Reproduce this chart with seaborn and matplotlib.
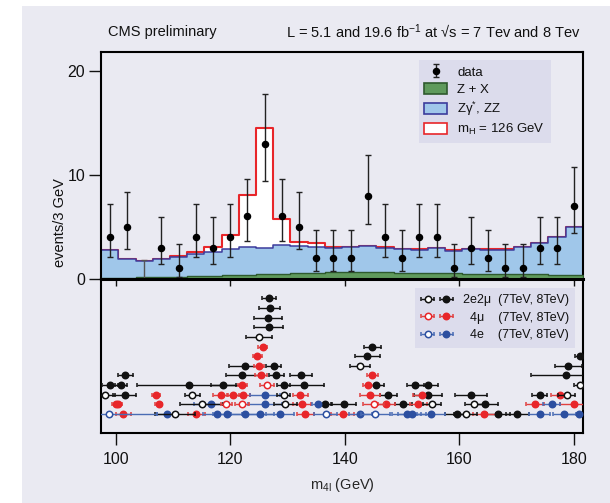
import numpy as np
import pandas as pd
import matplotlib
matplotlib.use("Agg")
import matplotlib.pyplot as plt
import seaborn as sns
from matplotlib.patches import Patch, Rectangle
from matplotlib.legend_handler import HandlerTuple

# ---------------- upper panel data ----------------
mass_bins = [99, 102, 105, 108, 111, 114, 117, 120, 123, 126, 129, 132, 135, 138,
             141, 144, 147, 150, 153, 156, 159, 162, 165, 168, 171, 174, 177, 180]
bin_width = 3.0
data_counts = [4, 5, 0, 3, 1, 4, 3, 4, 6, 13, 6, 5, 2, 2,
               2, 8, 4, 2, 4, 4, 1, 3, 2, 1, 1, 3, 3, 7]
zx_yield = [0.08, 0.10, 0.12, 0.15, 0.20, 0.25, 0.30, 0.35, 0.40, 0.45, 0.50, 0.55, 0.58, 0.60,
            0.60, 0.60, 0.60, 0.58, 0.56, 0.55, 0.53, 0.50, 0.48, 0.46, 0.44, 0.42, 0.40, 0.38]
zz_yield = [2.65, 1.79, 1.61, 1.74, 1.92, 2.12, 2.30, 2.47, 2.62, 2.53, 2.70, 2.63, 2.50, 2.40,
            2.45, 2.50, 2.40, 2.27, 2.24, 2.40, 2.17, 2.35, 2.32, 2.34, 2.61, 2.98, 3.60, 4.57]
higgs_yield = [0.02, 0.02, 0.02, 0.02, 0.04, 0.22, 0.47, 1.38, 5.0, 11.5, 2.55, 0.33, 0.32, 0.06,
               0.03, 0.03, 0.03, 0.03, 0.03, 0.03, 0.03, 0.03, 0.03, 0.03, 0.03, 0.03, 0.03, 0.03]
poisson_lo = {0: 0.0, 1: 0.83, 2: 1.29, 3: 1.63, 4: 1.91, 5: 2.16, 6: 2.38, 7: 2.58, 8: 2.77, 13: 3.58}
poisson_hi = {0: 1.84, 1: 2.30, 2: 2.64, 3: 2.92, 4: 3.16, 5: 3.38, 6: 3.58, 7: 3.77, 8: 3.94, 13: 4.73}
x_ticks = [100, 120, 140, 160, 180]
y_ticks = [0, 10, 20]

# ---------------- lower panel: individual events (mass, error, channel, sqrt(s)) ----------------
row01 = [(126.7, 1.2, '2e2mu', 8)]
row02 = [(126.9, 1.8, '2e2mu', 8)]
row03 = [(126.6, 2.4, '2e2mu', 8)]
row04 = [(126.7, 2.5, '2e2mu', 8)]
row05 = [(125.0, 2.2, '2e2mu', 7)]
row06 = [(125.7, 0.8, '4mu', 8), (144.8, 1.5, '2e2mu', 8)]
row07 = [(124.7, 0.8, '4mu', 8), (143.9, 2.2, '2e2mu', 8), (181.1, 1.0, '2e2mu', 8)]
row08 = [(122.5, 2.8, '2e2mu', 8), (125.0, 0.9, '4mu', 8), (127.6, 1.3, '2e2mu', 8),
         (142.6, 1.7, '2e2mu', 7), (179.0, 2.4, '2e2mu', 8)]
row09 = [(101.7, 1.35, '2e2mu', 8), (122.1, 2.9, '2e2mu', 8), (125.4, 1.0, '4mu', 8),
         (128.0, 1.3, '2e2mu', 8), (132.3, 1.9, '2e2mu', 8), (144.8, 1.0, '4mu', 8),
         (178.5, 6.0, '2e2mu', 8)]
row10 = [(99.0, 1.4, '2e2mu', 8), (100.9, 1.0, '2e2mu', 8), (112.8, 9.0, '2e2mu', 8),
         (118.8, 2.2, '2e2mu', 8), (122.1, 0.8, '4mu', 8), (126.4, 1.2, '4mu', 7),
         (129.3, 1.2, '2e2mu', 8), (132.8, 3.5, '2e2mu', 8), (144.1, 1.0, '4mu', 8),
         (145.4, 1.5, '2e2mu', 8), (152.3, 1.5, '2e2mu', 8), (154.5, 1.8, '2e2mu', 8),
         (181.1, 1.2, '2e2mu', 7)]
row11 = [(98.1, 1.8, '2e2mu', 7), (101.6, 2.0, '2e2mu', 8), (107.1, 0.7, '4mu', 8),
         (113.4, 1.3, '2e2mu', 7), (118.3, 1.3, '4mu', 8), (120.5, 1.0, '4mu', 8),
         (122.2, 1.3, '4mu', 8), (126.1, 2.6, '4e', 8), (129.3, 1.2, '2e2mu', 7),
         (132.2, 1.3, '4mu', 8), (144.4, 1.8, '4mu', 8), (147.6, 1.5, '2e2mu', 8),
         (153.4, 1.5, '4mu', 8), (154.5, 2.5, '2e2mu', 8), (162.0, 2.8, '2e2mu', 8),
         (174.0, 1.3, '2e2mu', 8), (177.5, 1.5, '4mu', 8), (178.7, 1.5, '2e2mu', 7)]
row12 = [(100.0, 0.6, '4mu', 8), (100.5, 0.6, '4mu', 8), (107.5, 0.6, '4mu', 8),
         (115.0, 3.8, '2e2mu', 7), (116.7, 3.0, '4e', 8), (119.3, 1.0, '4mu', 7),
         (122.1, 1.2, '4mu', 7), (126.1, 3.0, '4e', 8), (129.6, 2.0, '2e2mu', 7),
         (132.5, 1.6, '4mu', 8), (135.3, 1.0, '4e', 8), (136.5, 1.2, '2e2mu', 8),
         (139.8, 2.2, '2e2mu', 8), (145.0, 1.8, '4mu', 7), (147.2, 1.5, '4mu', 8),
         (150.2, 1.5, '2e2mu', 8), (152.8, 1.5, '4mu', 8), (155.2, 1.5, '2e2mu', 7),
         (162.6, 1.7, '2e2mu', 7), (164.5, 2.2, '2e2mu', 8), (173.2, 1.6, '4mu', 8),
         (176.1, 1.5, '4e', 8), (180.0, 2.5, '4mu', 8)]
row13 = [(98.9, 8.4, '4e', 7), (101.3, 1.3, '4mu', 8), (108.9, 1.6, '4e', 8),
         (110.3, 3.5, '2e2mu', 7), (114.1, 1.5, '4mu', 8), (117.7, 2.5, '4e', 8),
         (119.5, 2.5, '4e', 8), (122.5, 2.5, '4e', 8), (125.2, 2.5, '4e', 8),
         (128.7, 2.5, '4e', 8), (133.1, 1.5, '4mu', 8), (136.7, 2.0, '4e', 7),
         (139.6, 2.0, '4mu', 8), (142.7, 2.0, '4e', 8), (145.3, 2.5, '4e', 7),
         (150.8, 2.5, '4e', 8), (151.7, 2.5, '4e', 8), (155.0, 2.5, '4e', 8),
         (159.5, 2.0, '2e2mu', 8), (161.1, 2.0, '2e2mu', 7), (164.3, 2.0, '4mu', 8),
         (166.8, 2.0, '2e2mu', 8), (170.1, 2.0, '2e2mu', 8), (174.0, 1.8, '4e', 8),
         (178.3, 2.0, '4e', 8), (180.8, 2.0, '4e', 8)]
event_rows = [row01, row02, row03, row04, row05, row06, row07, row08, row09, row10, row11, row12, row13]
chan_labels = {'2e2mu': '2e2\u03bc', '4mu': '  4\u03bc  ', '4e': '  4e  '}
energy_label = '(7TeV, 8TeV)'

# ---------------- style ----------------
BG = '#eaeaf2'
LEG_BG = '#dcdcec'
RED = '#e8262a'
BLUE_FILL = '#a0c7ea'
BLUE_EDGE = '#3c3c9c'
GREEN_FILL = '#5f9a5c'
GREEN_EDGE = '#2e5a2e'
CHAN_COL = {'2e2mu': '#111111', '4mu': '#e8262a', '4e': '#2c4fa0'}
LINE_COL = {'2e2mu': '#111111', '4mu': '#e04040', '4e': '#4a6cb4'}
FONT = ['Liberation Sans', 'DejaVu Sans']

sns.set_theme(style='dark')
plt.rcParams['font.family'] = FONT
plt.rcParams['mathtext.fontset'] = 'custom'
plt.rcParams['mathtext.rm'] = 'Liberation Sans'
plt.rcParams['mathtext.it'] = 'Liberation Sans:italic'
plt.rcParams['axes.facecolor'] = BG
plt.rcParams['text.color'] = '#111111'
plt.rcParams['xtick.color'] = '#111111'
plt.rcParams['ytick.color'] = '#111111'

W, H = 610, 503
fig = plt.figure(figsize=(W / 100, H / 100), dpi=100)
fig.patch.set_facecolor('white')
fig.add_artist(Rectangle((22 / W, 0), 1, 1 - 6 / H, transform=fig.transFigure,
                         facecolor=BG, edgecolor='none', zorder=-10))

left, right = 101.3 / W, 582.7 / W
y_top, y_mid, y_bot = 52.0, 278.7, 433.3
ax_bot = fig.add_axes([left, 1 - y_bot / H, right - left, (y_bot - y_mid) / H])
ax_top = fig.add_axes([left, 1 - y_mid / H, right - left, (y_mid - y_top) / H])

xlim = (mass_bins[0] - bin_width / 2, mass_bins[-1] + bin_width / 2)

# ---------------- upper panel ----------------
df = pd.DataFrame({'m': mass_bins, 'zx': zx_yield, 'zz': zz_yield, 'h': higgs_yield, 'n': data_counts})
df['bkg'] = df['zx'] + df['zz']
df['tot'] = df['bkg'] + df['h']

hist_kw = dict(binwidth=bin_width, binrange=xlim, element='step', fill=True, alpha=1, ax=ax_top)
sns.histplot(data=df, x='m', weights='tot', color='white', edgecolor=RED, linewidth=1.5,
             zorder=1, **hist_kw)
sns.histplot(data=df, x='m', weights='bkg', color=BLUE_FILL, edgecolor=BLUE_EDGE, linewidth=1.1,
             zorder=2, **hist_kw)
sns.histplot(data=df, x='m', weights='zx', color=GREEN_FILL, edgecolor=GREEN_EDGE, linewidth=1.0,
             zorder=3, **hist_kw)

lo = np.array([poisson_lo[n] for n in data_counts])
hi = np.array([poisson_hi[n] for n in data_counts])
nz = df['n'].values > 0
ax_top.errorbar(df['m'].values[~nz], df['n'].values[~nz], yerr=[lo[~nz], hi[~nz]], fmt='none',
                ecolor='#555555', elinewidth=1.0, capsize=2, capthick=1, zorder=5)
h_data = ax_top.errorbar(df['m'].values[nz], df['n'].values[nz], yerr=[lo[nz], hi[nz]], fmt='o',
                         color='black', ms=4.4, ecolor='#222222', elinewidth=1.0, capsize=2,
                         capthick=1, zorder=6, label='data')

ax_top.set_xlim(*xlim)
ax_top.set_ylim(0, 21.8)
ax_top.set_xticks(x_ticks)
ax_top.set_yticks(y_ticks)
ax_top.tick_params(axis='x', direction='inout', length=9.5, width=1, labelbottom=False, bottom=True)
ax_top.tick_params(axis='y', direction='out', length=8.6, width=1, labelsize=11.5, left=True, pad=3)
ax_top.set_xlabel('')
ax_top.set_ylabel('')
for s in ax_top.spines.values():
    s.set_color('black')
    s.set_linewidth(1.5)
ax_top.spines['bottom'].set_linewidth(2.2)
ax_top.spines['bottom'].set_zorder(10)

leg_handles = [h_data,
               Patch(facecolor=GREEN_FILL, edgecolor=GREEN_EDGE, linewidth=1.2),
               Patch(facecolor=BLUE_FILL, edgecolor=BLUE_EDGE, linewidth=1.2),
               Patch(facecolor='white', edgecolor=RED, linewidth=1.2)]
leg_labels = ['data', 'Z + X', 'Z\u03b3$^{*}$, ZZ', 'm$_{\\mathrm{H}}$ = 126 GeV']
ax_top.legend(leg_handles, leg_labels, loc='upper right', bbox_to_anchor=(0.934, 0.965),
              frameon=True, fancybox=False, facecolor=LEG_BG, edgecolor='none', framealpha=1,
              fontsize=9.5, handlelength=1.7, handleheight=0.9, labelspacing=0.3,
              borderpad=0.45, handletextpad=0.8, borderaxespad=0)

# ---------------- lower panel ----------------
records = []
for i, row in enumerate(event_rows):
    for (m, e, c, s) in row:
        records.append({'m': m, 'err': e, 'chan': c, 'sqrts': s, 'y': len(event_rows) - 1 - i})
ev = pd.DataFrame(records)

containers = {}
for chan in ['2e2mu', '4mu', '4e']:
    for sq in [8, 7]:
        sub = ev[(ev['chan'] == chan) & (ev['sqrts'] == sq)]
        mfc = CHAN_COL[chan] if sq == 8 else 'white'
        containers[(chan, sq)] = ax_bot.errorbar(
            sub['m'], sub['y'], xerr=sub['err'], fmt='o', ms=4.6, mfc=mfc, mec=CHAN_COL[chan],
            mew=1.1, ecolor=LINE_COL[chan], elinewidth=1.0, capsize=1.5, capthick=1,
            zorder=4 if sq == 8 else 5)

ax_bot.set_xlim(*xlim)
ax_bot.set_ylim(-2.0, 14.03)
ax_bot.set_xticks(x_ticks)
ax_bot.set_yticks([])
ax_bot.tick_params(axis='x', direction='out', length=8.6, width=1, labelsize=11.5, pad=5, bottom=True)
for s in ax_bot.spines.values():
    s.set_color('black')
    s.set_linewidth(1.5)
ax_bot.set_xlabel('m$_{\\mathrm{4l}}$ (GeV)', fontsize=10.5, labelpad=6)
ax_bot.set_ylabel('')

h2 = [(containers[(c, 7)], containers[(c, 8)]) for c in ['2e2mu', '4mu', '4e']]
l2 = [chan_labels[c] + '  ' + energy_label for c in ['2e2mu', '4mu', '4e']]
ax_bot.legend(h2, l2, handler_map={tuple: HandlerTuple(ndivide=None, pad=0.5)},
              loc='upper right', bbox_to_anchor=(0.984, 0.94), frameon=True, fancybox=False,
              facecolor=LEG_BG, edgecolor='none', framealpha=1, fontsize=9,
              handlelength=2.5, labelspacing=0.45, borderpad=0.5, handletextpad=0.8, borderaxespad=0)

# ---------------- texts ----------------
fig.text(108 / W, 1 - 32 / H, 'CMS preliminary', fontsize=10.5, va='center', ha='left')
fig.text(581 / W, 1 - 32 / H, 'L = 5.1 and 19.6 fb$^{-1}$ at \u221as = 7 Tev and 8 Tev',
         fontsize=10.5, va='center', ha='right')
fig.text(60 / W, 1 - 223 / H, 'events/3 GeV', rotation=90, fontsize=10.5, va='center', ha='center')

fig.savefig('out.png', dpi=100, facecolor=fig.get_facecolor())
